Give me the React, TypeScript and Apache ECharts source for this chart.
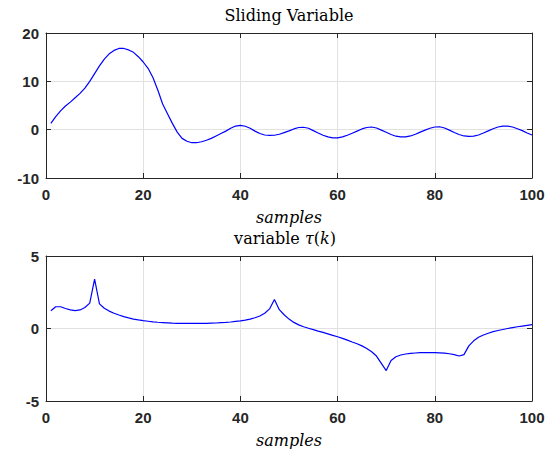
import React, { useEffect, useRef } from "react";
import * as echarts from "echarts";

const xTicks = [0, 20, 40, 60, 80, 100];

const slidingVariable = [
  1.3, 2.7, 3.9, 4.9, 5.7, 6.6, 7.5, 8.6, 10.0, 11.6,
  13.2, 14.6, 15.7, 16.4, 16.8, 16.8, 16.5, 16.0, 15.1, 14.0,
  12.7, 10.8, 8.2, 5.3, 3.3, 1.3, -0.5, -1.8, -2.4, -2.7,
  -2.7, -2.5, -2.2, -1.8, -1.3, -0.8, -0.3, 0.3, 0.75, 0.9,
  0.7, 0.3, -0.3, -0.8, -1.1, -1.2, -1.15, -0.95, -0.6, -0.25,
  0.15, 0.45, 0.5, 0.3, -0.2, -0.7, -1.15, -1.5, -1.7, -1.7,
  -1.5, -1.15, -0.75, -0.3, 0.15, 0.45, 0.55, 0.35, -0.1, -0.55,
  -1.0, -1.35, -1.5, -1.5, -1.3, -0.95, -0.5, -0.1, 0.3, 0.55,
  0.6, 0.35, -0.1, -0.6, -1.0, -1.3, -1.4, -1.35, -1.1, -0.7,
  -0.25, 0.2, 0.55, 0.75, 0.75, 0.55, 0.2, -0.2, -0.7, -1.1,
];

const tauValues = [
  1.23, 1.5, 1.5, 1.38, 1.28, 1.23, 1.28, 1.45, 1.75, 3.4,
  1.7, 1.4, 1.2, 1.05, 0.93, 0.82, 0.73, 0.65, 0.59, 0.54,
  0.5, 0.46, 0.43, 0.41, 0.39, 0.37, 0.36, 0.35, 0.35, 0.35,
  0.35, 0.35, 0.36, 0.37, 0.38, 0.4, 0.42, 0.45, 0.49, 0.53,
  0.58, 0.65, 0.74, 0.86, 1.05, 1.35, 2.0, 1.3, 0.95, 0.65,
  0.42, 0.25, 0.12, 0.02, -0.08, -0.18, -0.27, -0.37, -0.47, -0.57,
  -0.68, -0.8, -0.93, -1.05, -1.2, -1.38, -1.6, -1.9, -2.4, -2.9,
  -2.2, -1.95, -1.83, -1.76, -1.72, -1.69, -1.67, -1.66, -1.66, -1.67,
  -1.68, -1.7, -1.74, -1.8, -1.9, -1.8, -1.2, -0.85, -0.6, -0.45,
  -0.33, -0.22, -0.14, -0.07, 0.0, 0.06, 0.12, 0.17, 0.22, 0.27,
];

const topYTicks = { min: -10, max: 20, interval: 10 };
const bottomYTicks = { min: -5, max: 5, interval: 5 };

const AXIS_COLOR = "#262626";
const GRID_COLOR = "#e1e1e1";
const LABEL_FONT = {
  color: AXIS_COLOR,
  fontFamily: "Liberation Sans",
  fontWeight: "bold" as const,
  fontSize: 15,
};

function xAxes(gridIndex: number) {
  const common = {
    type: "value" as const,
    gridIndex,
    min: xTicks[0],
    max: xTicks[xTicks.length - 1],
    interval: xTicks[1] - xTicks[0],
    axisLine: { show: true, onZero: false, lineStyle: { color: AXIS_COLOR, width: 1 } },
    axisTick: { show: true, inside: true, length: 5, lineStyle: { color: AXIS_COLOR } },
  };
  return [
    {
      ...common,
      position: "bottom" as const,
      axisLabel: { ...LABEL_FONT, margin: 9 },
      splitLine: { show: true, lineStyle: { color: GRID_COLOR, width: 1 } },
    },
    {
      ...common,
      position: "top" as const,
      axisLabel: { show: false },
      splitLine: { show: false },
    },
  ];
}

function yAxes(gridIndex: number, t: { min: number; max: number; interval: number }) {
  const common = {
    type: "value" as const,
    gridIndex,
    min: t.min,
    max: t.max,
    interval: t.interval,
    axisLine: { show: true, onZero: false, lineStyle: { color: AXIS_COLOR, width: 1 } },
    axisTick: { show: true, inside: true, length: 5, lineStyle: { color: AXIS_COLOR } },
  };
  return [
    {
      ...common,
      position: "left" as const,
      axisLabel: { ...LABEL_FONT, margin: 7 },
      splitLine: { show: true, lineStyle: { color: GRID_COLOR, width: 1 } },
    },
    {
      ...common,
      position: "right" as const,
      axisLabel: { show: false },
      splitLine: { show: false },
    },
  ];
}

const SERIF = "DejaVu Serif";

function title(text: string, cx: number, cy: number, size: number, italic: boolean, rich?: any) {
  return {
    text,
    left: cx,
    top: cy - size / 2,
    textAlign: "center",
    padding: 0,
    itemGap: 0,
    textStyle: {
      fontFamily: SERIF,
      fontSize: size,
      fontStyle: italic ? "italic" : "normal",
      fontWeight: "normal",
      color: "#000",
      lineHeight: size,
      rich,
    },
  };
}

export default function App() {
  const ref = useRef<HTMLDivElement>(null);
  useEffect(() => {
    if (!ref.current) return;
    const chart = echarts.init(ref.current, undefined, { renderer: "svg" });
    const toPairs = (vals: number[]) => vals.map((v, i) => [i + 1, v]);
    chart.setOption({
      animation: false,
      backgroundColor: "#ffffff",
      title: [
        title("Sliding Variable", 289, 15, 16, false),
        title("samples", 289, 217, 16, true),
        title("variable {i|τ}({i|k})", 285, 238, 16, false, {
          i: { fontStyle: "italic", fontFamily: SERIF, fontSize: 16, color: "#000", lineHeight: 16 },
        }),
        title("samples", 289, 440, 16, true),
      ],
      grid: [
        { left: 46, top: 33, width: 486, height: 145 },
        { left: 46, top: 256, width: 486, height: 145 },
      ],
      xAxis: [...xAxes(0), ...xAxes(1)],
      yAxis: [...yAxes(0, topYTicks), ...yAxes(1, bottomYTicks)],
      series: [
        {
          type: "line",
          xAxisIndex: 0,
          yAxisIndex: 0,
          data: toPairs(slidingVariable),
          showSymbol: false,
          lineStyle: { color: "#0000ff", width: 1.2 },
          itemStyle: { color: "#0000ff" },
        },
        {
          type: "line",
          xAxisIndex: 2,
          yAxisIndex: 2,
          data: toPairs(tauValues),
          showSymbol: false,
          lineStyle: { color: "#0000ff", width: 1.2 },
          itemStyle: { color: "#0000ff" },
        },
      ],
    });
    return () => chart.dispose();
  }, []);
  return (
    <div
      ref={ref}
      style={{ position: "fixed", left: 0, top: 0, width: 558, height: 449, background: "#fff" }}
    />
  );
}
